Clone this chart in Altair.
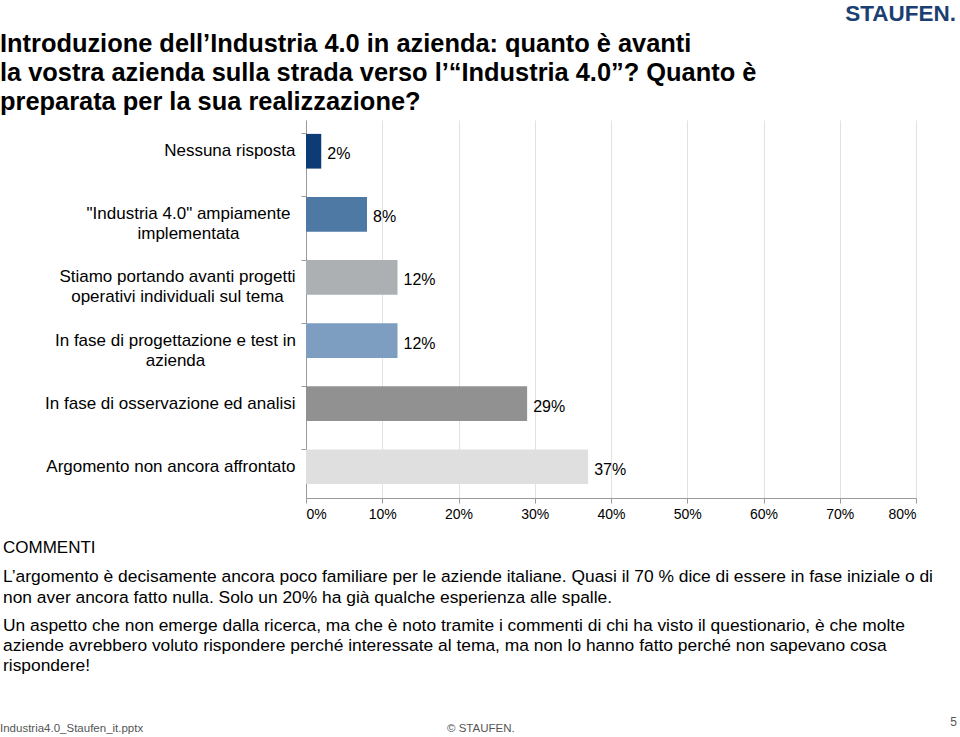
import altair as alt
import pandas as pd

categories = [
    "Nessuna risposta",
    "\"Industria 4.0\" ampiamente \nimplementata",
    "Stiamo portando avanti progetti\noperativi individuali sul tema",
    "In fase di progettazione e test in\nazienda",
    "In fase di osservazione ed analisi",
    "Argomento non ancora affrontato",
]
values = [2, 8, 12, 12, 29, 37]
bar_colors = ["#0c3b75", "#4d79a4", "#adb0b3", "#7d9ec0", "#919191", "#dfdfdf"]
x_ticks = [0, 10, 20, 30, 40, 50, 60, 70, 80]

title_lines = [
    "Introduzione dell’Industria 4.0 in azienda: quanto è avanti",
    "la vostra azienda sulla strada verso l’“Industria 4.0”? Quanto è",
    "preparata per la sua realizzazione?",
]
comment_p1 = [
    "L’argomento è decisamente ancora poco familiare per le aziende italiane. Quasi il 70 % dice di essere in fase iniziale o di",
    "non aver ancora fatto nulla. Solo un 20% ha già qualche esperienza alle spalle.",
]
comment_p2 = [
    "Un aspetto che non emerge dalla ricerca, ma che è noto tramite i commenti di chi ha visto il questionario, è che molte",
    "aziende avrebbero voluto rispondere perché interessate al tema, ma non lo hanno fatto perché non sapevano cosa",
    "rispondere!",
]

df = pd.DataFrame({
    "cat": categories,
    "val": values,
    "color": bar_colors,
    "lbl": [f"{v}%" for v in values],
})

FONT = "Liberation Sans"

y_axis = alt.Axis(
    title=None,
    labelExpr="split(datum.label, '\\n')",
    labelFont=FONT,
    labelFontSize=17,
    labelColor="#000000",
    labelLineHeight=20,
    labelLimit=400,
    bandPosition=0,
    domainColor="#9a9a9a",
    tickColor="#9a9a9a",
    tickSize=5,
    labelAlign={
        "condition": {"test": "indexof(datum.value, '\\n') >= 0", "value": "center"},
        "value": "right",
    },
    labelPadding={
        "condition": [
            {"test": "indexof(datum.value, 'Industria') >= 0", "value": 113},
            {"test": "indexof(datum.value, 'Stiamo') >= 0", "value": 124},
            {"test": "indexof(datum.value, 'progettazione') >= 0", "value": 126},
        ],
        "value": 6,
    },
)

x_axis = alt.Axis(
    title=None,
    values=x_ticks,
    labelExpr="datum.value + '%'",
    labelFont=FONT,
    labelFontSize=14,
    labelColor="#000000",
    labelPadding=4,
    tickSize=5,
    tickColor="#9a9a9a",
    domainColor="#9a9a9a",
    gridColor="#e2e2e2",
    grid=True,
)

base = alt.Chart(df).encode(
    y=alt.Y("cat:N", sort=categories, axis=y_axis,
            scale=alt.Scale(paddingInner=0.45, paddingOuter=0.22)),
)

bars = base.mark_bar().encode(
    x=alt.X("val:Q", axis=x_axis, scale=alt.Scale(domain=[0, 80], nice=False)),
    color=alt.Color("color:N", scale=None, legend=None),
)

labels = base.mark_text(align="left", baseline="middle", dx=6, dy=3,
                        font=FONT, fontSize=16, color="#000000").encode(
    x=alt.X("val:Q"),
    text="lbl:N",
)


def text_layer(lines, x, y, size, weight="normal", color="#000000", line_height=None, align="left"):
    props = dict(align=align, baseline="alphabetic", font=FONT, fontSize=size,
                 fontWeight=weight, color=color)
    if line_height:
        props["lineHeight"] = line_height
    return alt.Chart(pd.DataFrame({"k": [0]})).mark_text(**props).encode(
        x=alt.value(x), y=alt.value(y), text=alt.value(lines)
    )


OX, OY = 306, 120  # plot origin on the page

title = text_layer(title_lines, 0 - OX, 52 - OY, 25.4, weight="bold", line_height=29)
logo = text_layer("STAUFEN.", 956 - OX, 21 - OY, 22.5, weight="bold", color="#1b3f73", align="right")
commenti = text_layer("COMMENTI", 3 - OX, 553 - OY, 17)
p1 = text_layer(comment_p1, 3 - OX, 582 - OY, 17.4, line_height=20.5)
p2 = text_layer(comment_p2, 3 - OX, 631 - OY, 17.4, line_height=20)
foot1 = text_layer("Industria4.0_Staufen_it.pptx", 0 - OX, 732 - OY, 11.5, color="#555555")
foot2 = text_layer("© STAUFEN.", 447 - OX, 732 - OY, 11.5, color="#555555")
foot3 = text_layer("5", 957 - OX, 726 - OY, 12, color="#555555", align="right")

chart = alt.layer(bars, labels, title, logo, commenti, p1, p2, foot1, foot2, foot3).properties(
    width=610,
    height=378,
    autosize=alt.AutoSizeParams(type="none"),
    padding={"left": OX, "top": OY, "right": 44, "bottom": 239},
    background="#ffffff",
).configure_view(stroke=None)

chart.save("out.html", embed_options={"renderer": "svg", "actions": False})
